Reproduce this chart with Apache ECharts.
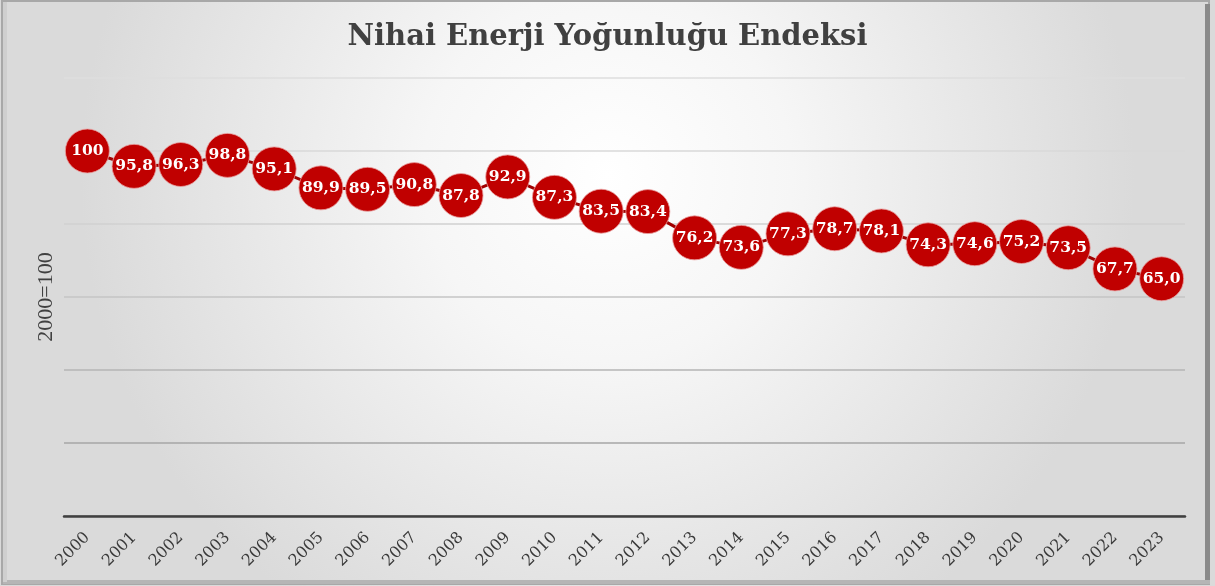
<!DOCTYPE html>
<html><head><meta charset="utf-8">
<script src="https://cdn.jsdelivr.net/npm/echarts@6/dist/echarts.min.js"></script>
<style>html,body{margin:0;padding:0;background:#fff;}#c{width:1215px;height:586px;}</style>
</head><body><div id="c"></div>
<script>
const years = ['2000','2001','2002','2003','2004','2005','2006','2007','2008','2009','2010','2011','2012','2013','2014','2015','2016','2017','2018','2019','2020','2021','2022','2023'];
const values = [100,95.8,96.3,98.8,95.1,89.9,89.5,90.8,87.8,92.9,87.3,83.5,83.4,76.2,73.6,77.3,78.7,78.1,74.3,74.6,75.2,73.5,67.7,65.0];
const titleText = 'Nihai Enerji Yoğunluğu Endeksi';
const yName = '2000=100';

const serif = '"DejaVu Serif", "Liberation Serif", serif';
const lserif = '"Liberation Serif", "DejaVu Serif", serif';
const chart = echarts.init(document.getElementById('c'), null, {renderer:'canvas'});
chart.setOption({
  animation:false,
  backgroundColor:{type:'radial', x:0.5, y:0.3, r:0.9, colorStops:[{offset:0,color:'#ffffff'},{offset:0.35,color:'#f6f6f6'},{offset:1,color:'#dadada'}]},
  graphic:[
    {type:'rect', shape:{x:2,y:1,width:1207,height:583}, style:{fill:'none', stroke:'#a8a8a8', lineWidth:2}, silent:true, z:100},
    {type:'rect', shape:{x:1205,y:4,width:5,height:580}, style:{fill:'#8a8a8a'}, silent:true, z:100},
    {type:'rect', shape:{x:3,y:580,width:1207,height:4}, style:{fill:'#b5b5b5'}, silent:true, z:100},
    {type:'rect', shape:{x:3,y:2,width:4,height:580}, style:{fill:'#cfcfcf'}, silent:true, z:100}
  ],
  title:{text:titleText, left:'center', top:18, textStyle:{fontFamily:serif, fontSize:29, fontWeight:'bold', color:'#404040'}},
  grid:{left:64, right:30, top:78, bottom:70, containLabel:false},
  xAxis:{type:'category', data:years, boundaryGap:true,
    axisLine:{lineStyle:{color:'#404040', width:2.5}}, axisTick:{show:false},
    axisLabel:{rotate:45, interval:0, fontFamily:serif, fontSize:16, color:'#3a3a3a', margin:19}},
  yAxis:{type:'value', min:0, max:120, interval:20, name:yName, nameLocation:'middle', nameGap:7,
    nameTextStyle:{fontFamily:lserif, fontSize:22, color:'#404040'},
    axisLabel:{show:false}, axisLine:{show:false}, axisTick:{show:false},
    splitLine:{lineStyle:{color:['#999999','#a6a6a6','#b4b4b4','#c4c4c4','#d0d0d0','#d8d8d8','#dedede'], width:1.5}}},
  series:[{type:'line', data:values, symbol:'circle', symbolSize:44,
    lineStyle:{color:'#a00000', width:3},
    itemStyle:{color:'#c00000', borderColor:'#e8a0a0', borderWidth:0.8},
    label:{show:true, position:'inside', fontFamily:serif, fontSize:15.5, fontWeight:'bold', color:'#ffffff',
      formatter:p=>p.value===100?'100':p.value.toFixed(1).replace('.',',')}}]
});
</script></body></html>
